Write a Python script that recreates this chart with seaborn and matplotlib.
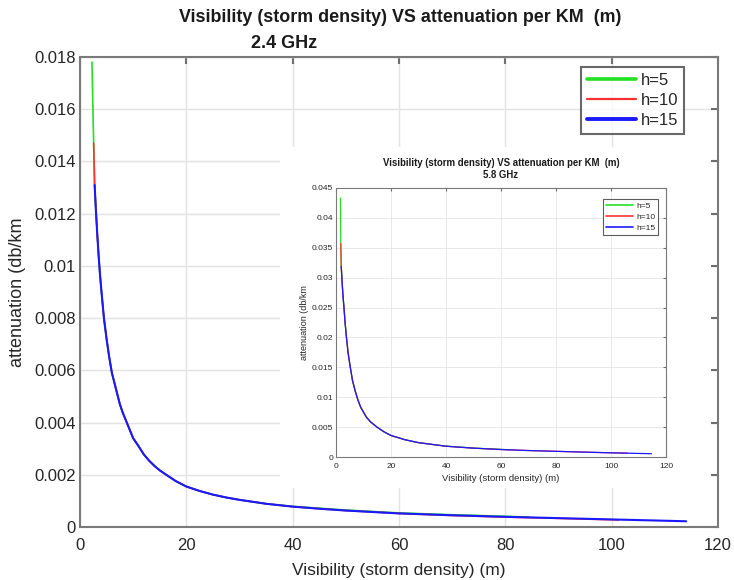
import matplotlib
matplotlib.use("Agg")
import matplotlib.pyplot as plt
import seaborn as sns
from matplotlib.patches import Rectangle

# ---------------- data ----------------
# 2.4 GHz (main chart)
vis_h5_24 = [2.25, 2.4, 2.57, 2.75, 3.0, 3.25, 3.5, 3.75, 4.0, 4.5, 5.0, 5.5, 6.0, 6.5, 7.0,
             7.5, 8.0, 9.0, 10, 11, 12, 13, 14, 15, 16, 18, 20, 22.5, 25, 27.5, 30, 35, 40,
             45, 50, 60, 70, 80, 84.4]
att_h5_24 = [0.0178, 0.0163, 0.0147, 0.0131, 0.0121, 0.0112, 0.0104, 0.0097, 0.0091, 0.0080,
             0.0072, 0.0065, 0.0059, 0.0055, 0.0051, 0.0047, 0.0044, 0.0039, 0.0034, 0.0031,
             0.00278, 0.00254, 0.00234, 0.00217, 0.00203, 0.00176, 0.00155, 0.00138,
             0.00124, 0.00113, 0.00104, 0.00089, 0.00079, 0.00072, 0.00065, 0.00054,
             0.00047, 0.00041, 0.00038]
vis_h10_24 = [2.57, 2.75, 3.0, 3.25, 3.5, 3.75, 4.0, 4.5, 5.0, 5.5, 6.0, 6.5, 7.0, 7.5, 8.0,
              9.0, 10, 11, 12, 13, 14, 15, 16, 18, 20, 22.5, 25, 27.5, 30, 35, 40, 45, 50,
              60, 70, 80, 90, 101.3]
att_h10_24 = [0.0147, 0.0131, 0.0121, 0.0112, 0.0104, 0.0097, 0.0091, 0.0080, 0.0072, 0.0065,
              0.0059, 0.0055, 0.0051, 0.0047, 0.0044, 0.0039, 0.0034, 0.0031, 0.00278,
              0.00254, 0.00234, 0.00217, 0.00203, 0.00176, 0.00155, 0.00138, 0.00124,
              0.00113, 0.00104, 0.00089, 0.00078, 0.00070, 0.00063, 0.00052, 0.00044,
              0.00038, 0.00033, 0.00027]
vis_h15_24 = [2.75, 3.0, 3.25, 3.5, 3.75, 4.0, 4.5, 5.0, 5.5, 6.0, 6.5, 7.0, 7.5, 8.0, 9.0,
              10, 11, 12, 13, 14, 15, 16, 18, 20, 22.5, 25, 27.5, 30, 35, 40, 45, 50, 60,
              70, 80, 90, 100, 114]
att_h15_24 = [0.0131, 0.0121, 0.0112, 0.0104, 0.0097, 0.0091, 0.0080, 0.0072, 0.0065, 0.0059,
              0.0055, 0.0051, 0.0047, 0.0044, 0.0039, 0.0034, 0.0031, 0.00278, 0.00254,
              0.00234, 0.00217, 0.00203, 0.00176, 0.00155, 0.00138, 0.00124, 0.00113,
              0.00104, 0.00089, 0.00078, 0.00070, 0.00063, 0.00052, 0.00045, 0.00039,
              0.00034, 0.00029, 0.00022]

# 5.8 GHz (inset chart)
vis_h5_58 = [1.6, 1.75, 1.9, 2.2, 2.5, 2.9, 3.3, 3.8, 4.4, 5.2, 6.0, 7.0, 8.0, 9.0, 10, 11,
             12.5, 14.9, 17.5, 20, 25, 30, 35, 40, 50, 60, 63]
att_h5_58 = [0.0433, 0.0357, 0.0319, 0.0295, 0.0272, 0.0250, 0.0225, 0.0200, 0.0174, 0.0150,
             0.0128, 0.0110, 0.0095, 0.0083, 0.0075, 0.0067, 0.0059, 0.0050, 0.0042, 0.0036,
             0.0029, 0.0024, 0.0021, 0.00183, 0.0015, 0.00128, 0.00122]
vis_h10_58 = [1.75, 1.9, 2.2, 2.5, 2.9, 3.3, 3.8, 4.4, 5.2, 6.0, 7.0, 8.0, 9.0, 10, 11, 12.5,
              14.9, 17.5, 20, 25, 30, 35, 40, 50, 60, 70, 80, 90, 100, 106]
att_h10_58 = [0.0357, 0.0319, 0.0295, 0.0272, 0.0250, 0.0225, 0.0200, 0.0174, 0.0150, 0.0128,
              0.0110, 0.0095, 0.0083, 0.0075, 0.0067, 0.0059, 0.0050, 0.0042, 0.0036, 0.0029,
              0.0024, 0.0021, 0.0018, 0.00148, 0.00125, 0.00108, 0.00095, 0.00082, 0.0007,
              0.00066]
vis_h15_58 = [1.9, 2.2, 2.5, 2.9, 3.3, 3.8, 4.4, 5.2, 6.0, 7.0, 8.0, 9.0, 10, 11, 12.5, 14.9,
              17.5, 20, 25, 30, 35, 40, 50, 60, 70, 80, 90, 100, 114.7]
att_h15_58 = [0.0319, 0.0295, 0.0272, 0.0250, 0.0225, 0.0200, 0.0174, 0.0150, 0.0128, 0.0110,
              0.0095, 0.0083, 0.0075, 0.0067, 0.0059, 0.0050, 0.0042, 0.0036, 0.0029, 0.0024,
              0.0021, 0.0018, 0.00148, 0.00125, 0.00108, 0.00095, 0.00082, 0.0007, 0.00055]

series_labels = ["h=5", "h=10", "h=15"]
series_colors = ["#22e022", "#ff3030", "#1a1aff"]

x_ticks = [0, 20, 40, 60, 80, 100, 120]
x_tick_labels = ["0", "20", "40", "60", "80", "100", "120"]
y_ticks_main = [0, 0.002, 0.004, 0.006, 0.008, 0.01, 0.012, 0.014, 0.016, 0.018]
y_tick_labels_main = ["0", "0.002", "0.004", "0.006", "0.008", "0.01", "0.012", "0.014",
                      "0.016", "0.018"]
y_ticks_inset = [0, 0.005, 0.01, 0.015, 0.02, 0.025, 0.03, 0.035, 0.04, 0.045]
y_tick_labels_inset = ["0", "0.005", "0.01", "0.015", "0.02", "0.025", "0.03", "0.035",
                       "0.04", "0.045"]

title_main = "Visibility (storm density) VS attenuation per KM  (m)"
subtitle_main = "2.4 GHz"
subtitle_inset = "5.8 GHz"
x_label = "Visibility (storm density) (m)"
y_label = "attenuation (db/km"

# ---------------- style ----------------
sns.set_theme(style="white")
plt.rcParams["font.family"] = ["Liberation Sans", "DejaVu Sans"]

W, H = 734, 580
fig = plt.figure(figsize=(W / 100, H / 100), dpi=100)
fig.patch.set_facecolor("white")


def px_rect(left, top, right, bottom):
    return [left / W, (H - bottom) / H, (right - left) / W, (bottom - top) / H]


def style_axes(ax, fs, spine_lw, ticklen):
    ax.set_facecolor("white")
    ax.grid(True, color="#e3e3e3", linewidth=spine_lw * 0.7)
    ax.set_axisbelow(True)
    ax.tick_params(direction="in", top=True, right=True, length=ticklen, width=spine_lw,
                   color="#6e6e6e", labelcolor="#262626", labelsize=fs, pad=3)
    for s in ax.spines.values():
        s.set_visible(True)
        s.set_color("#7a7a7a")
        s.set_linewidth(spine_lw)


# ---------------- main axes ----------------
ax = fig.add_axes(px_rect(80, 57, 718, 527))
main_data = [(vis_h5_24, att_h5_24), (vis_h10_24, att_h10_24), (vis_h15_24, att_h15_24)]
main_lw = [1.2, 1.2, 1.5]
for (xv, yv), lab, col, lw in zip(main_data, series_labels, series_colors, main_lw):
    sns.lineplot(x=xv, y=yv, ax=ax, color=col, label=lab, linewidth=lw, sort=False)

ax.set_xlim(0, 120)
ax.set_ylim(0, 0.018)
ax.set_xticks(x_ticks, x_tick_labels)
ax.set_yticks(y_ticks_main, y_tick_labels_main)
style_axes(ax, 12, 1.5, 5)
ax.tick_params(axis="x", pad=8)
ax.set_xlabel(x_label, fontsize=12.5, color="#262626", labelpad=7)
ax.set_ylabel(y_label, fontsize=13, color="#262626", labelpad=6)

leg = ax.legend(loc="upper right", bbox_to_anchor=((684 - 80) / 638, (527 - 67) / 470),
                fontsize=12, frameon=True, fancybox=False, edgecolor="#444444",
                handlelength=2.9, handletextpad=0.3, labelspacing=0.3, borderpad=0.35,
                borderaxespad=0)
leg.get_frame().set_linewidth(1.5)
for ln, lw in zip(leg.get_lines(), [2.6, 1.6, 2.8]):
    ln.set_linewidth(lw)

fig.text(400 / W, 1 - 18 / H, title_main, ha="center", va="center", fontsize=12.9,
         fontweight="bold", color="#1a1a1a")
fig.text(284 / W, 1 - 43 / H, subtitle_main, ha="center", va="center", fontsize=13,
         fontweight="bold", color="#1a1a1a")

# white backdrop of the pasted inset
fig.add_artist(Rectangle((280 / W, (H - 488) / H), 431 / W, 341 / H, transform=fig.transFigure,
                         facecolor="white", edgecolor="none", zorder=1))

# ---------------- inset axes ----------------
axi = fig.add_axes(px_rect(336, 188, 666, 457))
axi.set_zorder(2)
inset_data = [(vis_h5_58, att_h5_58), (vis_h10_58, att_h10_58), (vis_h15_58, att_h15_58)]
for (xv, yv), lab, col in zip(inset_data, series_labels, series_colors):
    sns.lineplot(x=xv, y=yv, ax=axi, color=col, label=lab, linewidth=0.9, sort=False)
axi.set_xlim(0, 120)
axi.set_ylim(0, 0.045)
axi.set_xticks(x_ticks, x_tick_labels)
axi.set_yticks(y_ticks_inset, y_tick_labels_inset)
style_axes(axi, 6, 0.8, 2.5)
axi.tick_params(axis="y", pad=2)
axi.tick_params(axis="x", pad=4.5)
axi.set_xlabel(x_label, fontsize=6.8, color="#262626", labelpad=3)
axi.set_ylabel(y_label, fontsize=6.5, color="#262626", labelpad=2)
axi.set_title(title_main + "\n" + subtitle_inset, fontsize=6.9, fontweight="bold",
              color="#1a1a1a", pad=7, linespacing=1.3)
legi = axi.legend(loc="upper right", bbox_to_anchor=((658 - 336) / 330, (457 - 199) / 269),
                  fontsize=6, frameon=True, fancybox=False, edgecolor="#333333",
                  handlelength=3.3, handletextpad=0.3, labelspacing=0.4, borderpad=0.35,
                  borderaxespad=0)
legi.get_frame().set_linewidth(0.8)
for ln in legi.get_lines():
    ln.set_linewidth(1.2)

fig.savefig("out.png", dpi=100, facecolor="white")
